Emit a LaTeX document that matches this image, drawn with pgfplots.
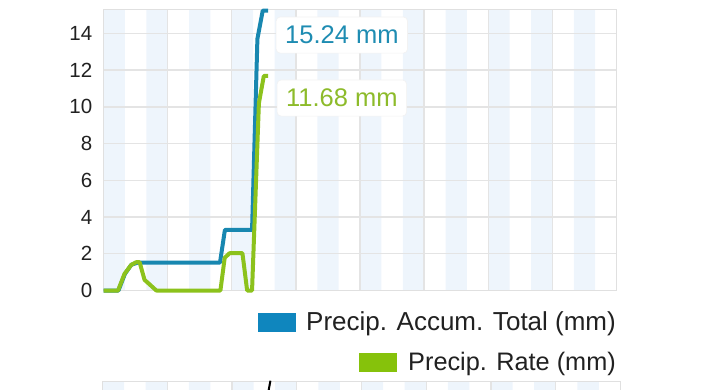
\documentclass[border=0pt]{standalone}
\usepackage{pgfplots}
\pgfplotsset{compat=1.18}
\usepackage{fontspec}
\setmainfont{Liberation Sans}
\definecolor{blueline}{HTML}{1887B0}
\definecolor{greenline}{HTML}{8CC21C}
\definecolor{bluelabel}{HTML}{1E8CB2}
\definecolor{greenlabel}{HTML}{8DBB2A}
\definecolor{bluebox}{HTML}{0F86BE}
\definecolor{greenbox}{HTML}{86C20B}
\definecolor{band}{HTML}{EEF5FC}
\definecolor{gridc}{HTML}{E4E4E4}
\definecolor{framec}{HTML}{E0E0E0}
\definecolor{textc}{HTML}{212121}
\definecolor{shadowc}{HTML}{F2F2F2}
\begin{document}
\begin{tikzpicture}
\begin{axis}[
  set layers,
  at={(103.5pt,98.5pt)}, anchor=south west,
  scale only axis, width=513pt, height=281pt,
  xmin=0, xmax=24, ymin=0, ymax=15.3,
  xtick={0,3,...,24}, xticklabels={},
  ytick={0,2,...,14},
  grid=major, major grid style={gridc, line width=1.4pt},
  axis line style={framec, line width=1.4pt},
  major tick length=0pt,
  yticklabel style={font=\fontsize{20.5}{20.5}\selectfont, text=textc, inner sep=0pt, xshift=-11pt},
  /pgf/number format/assume math mode=true,
  clip=false,
]
\addplot[ybar interval, fill=band, draw=none, on layer=axis background] coordinates {
(0,15.3) (1,0) (2,15.3) (3,0) (4,15.3) (5,0) (6,15.3) (7,0) (8,15.3) (9,0) (10,15.3) (11,0)
(12,15.3) (13,0) (14,15.3) (15,0) (16,15.3) (17,0) (18,15.3) (19,0) (20,15.3) (21,0) (22,15.3) (23,0) (24,0)};
\addplot[blueline, line width=4pt, line join=round] coordinates {
(0,0) (0.7,0) (1.0,0.9) (1.3,1.4) (1.6,1.52) (5.45,1.52) (5.68,3.3) (6.95,3.3) (7.2,13.7) (7.45,15.24) (7.7,15.24)};
\addplot[greenline, line width=4pt, line join=round] coordinates {
(0,0) (0.68,0) (0.98,0.9) (1.3,1.4) (1.53,1.54) (1.69,1.54) (1.92,0.58) (2.16,0.33) (2.47,0) (5.47,0) (5.67,1.78) (5.9,2.03) (6.5,2.03) (6.72,0) (6.95,0) (7.27,10.2) (7.5,11.68) (7.7,11.68)};
\node[fill=white, draw=shadowc, line width=0.6pt, rounded corners=4pt, text=bluelabel, font=\fontsize{25.5}{25.5}\selectfont, inner xsep=9pt, inner ysep=9pt] at (axis cs:11.15,13.91) {15.24 mm};
\node[fill=white, draw=shadowc, line width=0.6pt, rounded corners=4pt, text=greenlabel, font=\fontsize{25.5}{25.5}\selectfont, inner xsep=9pt, inner ysep=9pt] at (axis cs:11.15,10.48) {11.68 mm};
\end{axis}
\fill[bluebox] (258pt,57pt) rectangle (296pt,76pt);
\node[anchor=base east, inner sep=0pt, font=\fontsize{26}{26}\selectfont, text=textc] at (616pt,59pt) {Precip. Accum. Total (mm)};
\fill[greenbox] (359pt,17pt) rectangle (397pt,36pt);
\node[anchor=base east, inner sep=0pt, font=\fontsize{25.3}{25.3}\selectfont, text=textc] at (616pt,19pt) {Precip. Rate (mm)};
\begin{axis}[
  set layers,
  at={(102.5pt,-92.7pt)}, anchor=south west,
  scale only axis, width=518pt, height=100pt,
  xmin=0, xmax=24, ymin=0, ymax=10,
  xtick={0,3,...,24}, xticklabels={}, ytick=\empty,
  grid=major, major grid style={gridc, line width=1.4pt},
  axis line style={framec, line width=1.4pt},
  major tick length=0pt, clip=false,
]
\addplot[ybar interval, fill=band, draw=none, on layer=axis background] coordinates {
(0,10) (1,0) (2,10) (3,0) (4,10) (5,0) (6,10) (7,0) (8,10) (9,0) (10,10) (11,0)
(12,10) (13,0) (14,10) (15,0) (16,10) (17,0) (18,10) (19,0) (20,10) (21,0) (22,10) (23,0) (24,0)};
\addplot[black, line width=2pt] coordinates {(7.78,10.1) (7.6,8)};
\end{axis}
\pgfresetboundingbox
\useasboundingbox (0pt,0pt) rectangle (720pt,389pt);
\end{tikzpicture}
\end{document}
